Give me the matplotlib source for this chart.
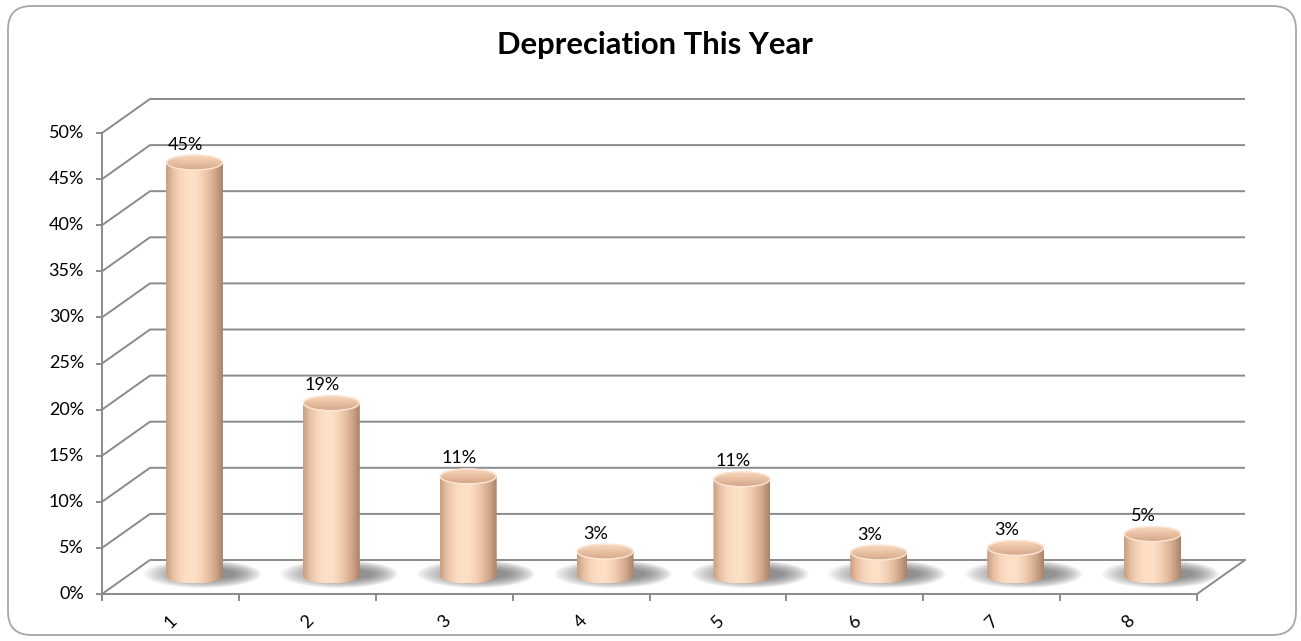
import numpy as np
import matplotlib
matplotlib.use("Agg")
import matplotlib.pyplot as plt
from matplotlib.patches import Ellipse, PathPatch, FancyBboxPatch
from matplotlib.path import Path
from matplotlib.colors import LinearSegmentedColormap

# ---- data ----
categories = ["1", "2", "3", "4", "5", "6", "7", "8"]
values = [0.449, 0.188, 0.1085, 0.027, 0.1055, 0.026, 0.031, 0.046]
y_ticks = [0.0, 0.05, 0.10, 0.15, 0.20, 0.25, 0.30, 0.35, 0.40, 0.45, 0.50]
title = "Depreciation This Year"

W, H = 1301, 641
fig = plt.figure(figsize=(W / 100, H / 100), dpi=100)
ax = fig.add_axes([0, 0, 1, 1])
ax.set_axis_off()

# pixel scale of the data axes
px_x = 136.875        # pixels per category
px_y = 922.0          # pixels per unit value
x_origin_px = 102.0
y_origin_px = 594.0
xlim = (-x_origin_px / px_x, (W - x_origin_px) / px_x)
ylim = (-(H - y_origin_px) / px_y, y_origin_px / px_y)

def pxx(p):
    return p / px_x

def pxy(p):
    return p / px_y

# oblique depth offset
DX = pxx(48)
DY = pxy(34)
n = len(categories)
vmax = y_ticks[-1]
grid_c = "#8a8a8a"
lw = 1.4
fs = 13
font = "Lato"

# walls / gridlines
for v in y_ticks:
    ax.plot([0, DX, n + DX], [v, v + DY, v + DY], color=grid_c, lw=lw, zorder=1,
            solid_capstyle="butt")
    ax.plot([-pxx(5), 0], [v, v], color=grid_c, lw=lw, zorder=1)
    ax.text(-pxx(18), v, f"{v:.0%}", ha="right", va="center", fontsize=fs,
            family=font, color="#000000")
# floor and axes
ax.plot([0, 0], [0, vmax], color=grid_c, lw=lw, zorder=1)
ax.plot([0, n, n + DX], [0, 0, DY], color=grid_c, lw=lw, zorder=1)
for i in range(n + 1):
    ax.plot([i, i], [0, -pxy(6)], color=grid_c, lw=lw, zorder=1)
for i, c in enumerate(categories):
    ax.text(i + 0.5, -pxy(28), c, rotation=45, ha="center", va="center",
            fontsize=fs, family=font, color="#000000")

# cylinders
body_cmap = LinearSegmentedColormap.from_list(
    "body", ["#c79e82", "#e9c1a3", "#f8d6bb", "#fedfc5", "#fde0c6", "#f6d3b8",
             "#e6bea0", "#cda487", "#a88268"])
top_cmap = LinearSegmentedColormap.from_list(
    "top", ["#d4a98b", "#e3b99b", "#efcaad", "#f8d9c0"])
grad = np.linspace(0, 1, 256).reshape(1, -1)
rx = pxx(28.5)
ry = pxy(7.5)
t = np.linspace(np.pi, 2 * np.pi, 60)

for i, v in enumerate(values):
    cx = i + 0.5 + DX / 2
    base = DY / 2 + pxy(1)
    top = base + v
    # shadow
    for k in range(14):
        f = 1 - k / 14
        ax.add_patch(Ellipse((cx + pxx(8 + 8 * (1 - f)), base + pxy(2)),
                             width=pxx(45 + 72 * f), height=pxy(8 + 20 * f),
                             facecolor="#5a5a5a", edgecolor="none", alpha=0.07,
                             zorder=2))
    # body
    verts = [(cx - rx, top), (cx - rx, base)]
    verts += list(zip(cx + rx * np.cos(t), base + ry * np.sin(t)))
    verts += [(cx + rx, top), (cx - rx, top)]
    path = Path(verts)
    patch = PathPatch(path, facecolor="none", edgecolor="none", zorder=3)
    ax.add_patch(patch)
    im = ax.imshow(grad, cmap=body_cmap, extent=(cx - rx, cx + rx, base - ry, top),
                   aspect="auto", zorder=3, interpolation="bilinear")
    im.set_clip_path(patch)
    # top ellipse
    te = Ellipse((cx, top), width=2 * rx, height=2 * ry, facecolor="none",
                 edgecolor="none", zorder=4)
    ax.add_patch(te)
    im2 = ax.imshow(np.linspace(1, 0, 64).reshape(-1, 1),
                    cmap=top_cmap, extent=(cx - rx, cx + rx, top - ry, top + ry),
                    aspect="auto", zorder=4, interpolation="bilinear", origin="upper")
    im2.set_clip_path(te)
    ax.add_patch(Ellipse((cx, top - pxy(0.5)), width=2 * rx - pxx(1), height=2 * ry,
                         facecolor="none", edgecolor="#fde6d3", lw=1.0, zorder=5))
    # label
    ax.text(cx - pxx(9), top + ry + pxy(10), f"{v:.0%}", ha="center", va="center",
            fontsize=fs, family=font, color="#000000", zorder=6)

ax.set_xlim(*xlim)
ax.set_ylim(*ylim)

# title
fig.text(655 / W, 1 - 54 / H, title, ha="center", va="baseline", fontsize=22.3,
         fontweight="bold", family=font, color="#000000")

# chart border
fig.patches.append(FancyBboxPatch((8 / W, 6 / H), 1288 / W, 629 / H,
                                  boxstyle="round,pad=0,rounding_size=0.018",
                                  transform=fig.transFigure, facecolor="none",
                                  edgecolor="#a6a6a6", lw=1.3, mutation_aspect=W / H))

fig.savefig("out.png", dpi=100)
